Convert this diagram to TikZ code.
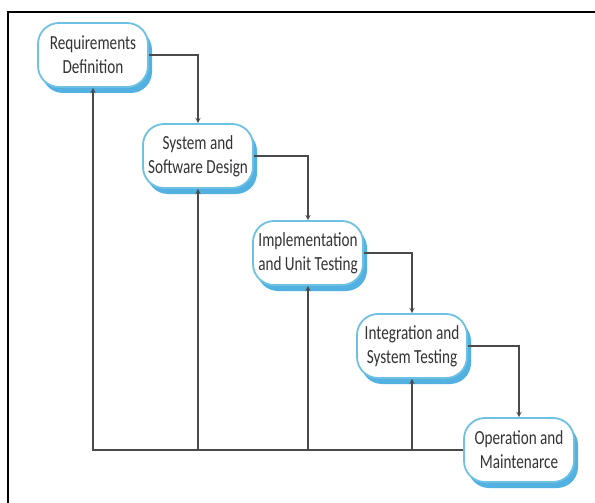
\documentclass[tikz,border=0pt]{standalone}
\usepackage{fontspec}
\setmainfont[FakeStretch=0.76]{Carlito}
\usepackage{tikz}
\usetikzlibrary{calc}
\usetikzlibrary{positioning}
\usetikzlibrary{shapes}
\usetikzlibrary{shadows}
\usetikzlibrary{arrows}

\definecolor{boxline}{HTML}{6EC1E2}
\definecolor{boxshade}{HTML}{3FA8DE}
\definecolor{boxtext}{HTML}{333333}
\definecolor{flowline}{HTML}{4A4A4A}

\tikzset{
	stage/.style={draw=boxline, line width=1.8pt, fill=white, rounded corners=21pt,
		minimum width=110pt, minimum height=64pt, align=center, text=boxtext,
		font=\fontsize{20}{24}\selectfont,
		drop shadow={shadow xshift=4pt, shadow yshift=-6pt, fill=boxshade, opacity=0.9}},
	flow/.style={draw=flowline, line width=1.3pt, -stealth}
}

\begin{document}
\begin{tikzpicture}[x=1pt, y=-1pt]
		\useasboundingbox (0,0) rectangle (595,503);
		\draw[line width=2pt] (8,520) -- (8,12) -- (610,12);

		\node[stage] (req) at (93, 55) {Requirements\\Definition};
		\node[stage] (design) at (198, 156) {System and\\Software Design};
		\node[stage] (impl) at (308, 253) {Implementation\\and Unit Testing};
		\node[stage] (integ) at (412, 346) {Integration and\\System Testing};
		\node[stage] (oper) at (519, 450) {Operation and\\Maintenarce};

		\draw[flow] (req.east) -| (design.north);
		\draw[flow] (design.east) -| (impl.north);
		\draw[flow] (impl.east) -| (integ.north);
		\draw[flow] (integ.east) -| (oper.north);

		\draw[flow] (oper.west) -| (req.south);
		\draw[flow] (design.south |- oper.west) -- (design.south);
		\draw[flow] (impl.south |- oper.west) -- (impl.south);
		\draw[flow] (integ.south |- oper.west) -- (integ.south);
\end{tikzpicture}
\end{document}
